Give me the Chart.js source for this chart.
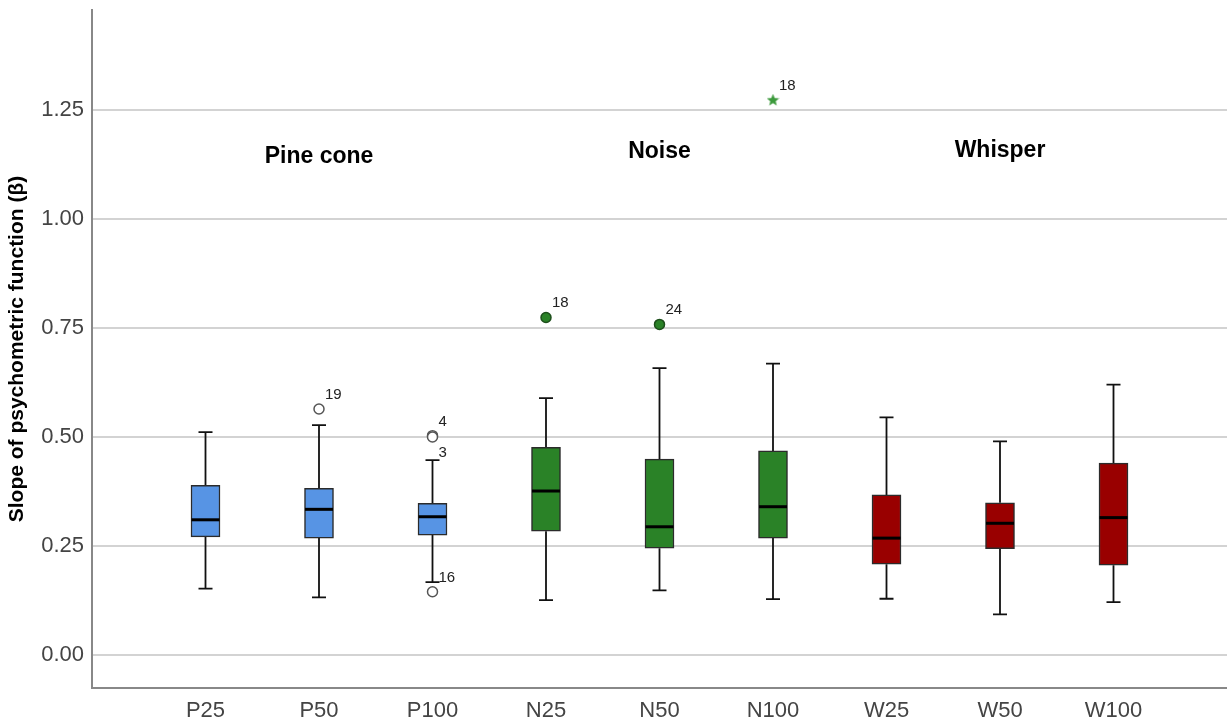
<!DOCTYPE html>
<html>
<head>
<meta charset="utf-8">
<script src="https://cdn.jsdelivr.net/npm/chart.js@4.4.1/dist/chart.umd.min.js"></script>
<style>
  html, body { margin: 0; padding: 0; background: #fff; }
</style>
</head>
<body>
<canvas id="boxChart" width="1227" height="725"></canvas>
<script>
const categories  = ['P25', 'P50', 'P100', 'N25', 'N50', 'N100', 'W25', 'W50', 'W100'];
const whiskerLow  = [0.152, 0.132, 0.167, 0.126, 0.148, 0.128, 0.129, 0.093, 0.121];
const quartile1   = [0.271, 0.268, 0.275, 0.284, 0.245, 0.268, 0.208, 0.244, 0.206];
const medians     = [0.310, 0.334, 0.317, 0.376, 0.294, 0.340, 0.268, 0.302, 0.315];
const quartile3   = [0.389, 0.382, 0.348, 0.476, 0.449, 0.468, 0.367, 0.349, 0.440];
const whiskerHigh = [0.511, 0.527, 0.447, 0.589, 0.658, 0.668, 0.545, 0.490, 0.620];

// outliers (circles): category index, value, case number
const outlierCat    = [1, 2, 2, 2, 3, 4];
const outlierValues = [0.564, 0.503, 0.500, 0.145, 0.774, 0.758];
const outlierIds    = ['19', '4', '3', '16', '18', '24'];

// extreme values (stars)
const extremeCat    = [5];
const extremeValues = [1.272];
const extremeIds    = ['18'];

const groupNames       = ['Pine cone', 'Noise', 'Whisper'];
const groupCenterCat   = [1, 4, 7];
const groupLabelValues = [1.142, 1.154, 1.156];

const yTicks = [0, 0.25, 0.5, 0.75, 1.0, 1.25];

const groupColors = ['#5794e4', '#2a8227', '#990000'];
const groupOf = i => Math.floor(i / 3);
const FONT = '"Liberation Sans", Arial, sans-serif';

function starImage(size, color) {
  const c = document.createElement('canvas');
  c.width = c.height = size;
  const g = c.getContext('2d');
  g.fillStyle = color;
  g.beginPath();
  for (let k = 0; k < 10; k++) {
    const r = k % 2 ? size * 0.22 : size * 0.5;
    const a = -Math.PI / 2 + k * Math.PI / 5;
    g.lineTo(size / 2 + r * Math.cos(a), size / 2 + r * Math.sin(a));
  }
  g.closePath();
  g.fill();
  return c;
}

const boxPlugin = {
  id: 'boxWhiskers',
  beforeDatasetsDraw(chart) {
    const { ctx, scales: { x, y } } = chart;
    ctx.save();
    ctx.strokeStyle = '#111';
    ctx.lineWidth = 1.8;
    categories.forEach((c, i) => {
      const px = x.getPixelForValue(i + 1);
      const lo = y.getPixelForValue(whiskerLow[i]);
      const hi = y.getPixelForValue(whiskerHigh[i]);
      ctx.beginPath();
      ctx.moveTo(px, lo); ctx.lineTo(px, y.getPixelForValue(quartile1[i]));
      ctx.moveTo(px, hi); ctx.lineTo(px, y.getPixelForValue(quartile3[i]));
      ctx.moveTo(px - 7, lo); ctx.lineTo(px + 7, lo);
      ctx.moveTo(px - 7, hi); ctx.lineTo(px + 7, hi);
      ctx.stroke();
    });
    // group headings
    ctx.fillStyle = '#000';
    ctx.font = 'bold 23px ' + FONT;
    ctx.textAlign = 'center';
    ctx.textBaseline = 'middle';
    groupNames.forEach((name, g) => {
      ctx.fillText(name, x.getPixelForValue(groupCenterCat[g] + 1), y.getPixelForValue(groupLabelValues[g]));
    });
    ctx.restore();
  },
  afterDatasetsDraw(chart) {
    const { ctx, scales: { x, y } } = chart;
    ctx.save();
    ctx.strokeStyle = '#000';
    ctx.lineWidth = 3;
    categories.forEach((c, i) => {
      const px = x.getPixelForValue(i + 1);
      const my = y.getPixelForValue(medians[i]);
      ctx.beginPath();
      ctx.moveTo(px - 14, my); ctx.lineTo(px + 14, my);
      ctx.stroke();
    });
    // case-number labels beside outliers
    ctx.font = '15px ' + FONT;
    ctx.fillStyle = '#222';
    ctx.textAlign = 'left';
    ctx.textBaseline = 'alphabetic';
    const placed = [];
    const label = (cat, val, id) => {
      const px = x.getPixelForValue(cat + 1) + 6;
      let by = y.getPixelForValue(val) - 10;
      const w = ctx.measureText(id).width;
      if (placed.some(r => px < r.x + r.w && r.x < px + w && by > r.y - 12 && by - 12 < r.y)) {
        by = y.getPixelForValue(val) + 20;
      }
      placed.push({ x: px, y: by, w });
      ctx.fillText(id, px, by);
    };
    outlierCat.forEach((c, i) => label(c, outlierValues[i], outlierIds[i]));
    extremeCat.forEach((c, i) => label(c, extremeValues[i], extremeIds[i]));
    ctx.restore();
  }
};

const ctx = document.getElementById('boxChart').getContext('2d');
new Chart(ctx, {
  type: 'bar',
  data: {
    datasets: [
      {
        type: 'bar',
        data: categories.map((c, i) => ({ x: i + 1, y: [quartile1[i], quartile3[i]] })),
        backgroundColor: categories.map((c, i) => groupColors[groupOf(i)]),
        borderColor: '#2b2b2b',
        borderWidth: 1.5,
        borderSkipped: false,
        barThickness: 29,
        order: 2
      },
      {
        type: 'scatter',
        data: outlierCat.map((c, i) => ({ x: c + 1, y: outlierValues[i] })),
        pointRadius: 5,
        pointBackgroundColor: outlierCat.map(c => groupOf(c) === 0 ? '#fff' : groupColors[groupOf(c)]),
        pointBorderColor: outlierCat.map(c => groupOf(c) === 0 ? '#555' : '#1d4f1b'),
        pointBorderWidth: 1.5,
        order: 1
      },
      {
        type: 'scatter',
        data: extremeCat.map((c, i) => ({ x: c + 1, y: extremeValues[i] })),
        pointStyle: starImage(13, '#3c9a3c'),
        order: 1
      }
    ]
  },
  options: {
    responsive: false,
    animation: false,
    layout: { autoPadding: false, padding: { top: 10, right: 0, left: 0, bottom: 0 } },
    plugins: { legend: { display: false }, tooltip: { enabled: false } },
    scales: {
      x: {
        type: 'linear',
        min: 0,
        max: 10,
        offset: false,
        afterBuildTicks: s => { s.ticks = categories.map((c, i) => ({ value: i + 1 })); },
        ticks: {
          callback: v => categories[v - 1] || '',
          font: { family: FONT, size: 22 },
          color: '#444',
          padding: 10,
          maxRotation: 0,
          autoSkip: false
        },
        grid: { display: false, drawTicks: false, offset: false },
        border: { color: '#888', width: 2 },
        afterFit: s => { s.height = 37; s.paddingLeft = 0; s.paddingRight = 0; }
      },
      y: {
        min: -0.0757,
        max: 1.479,
        afterBuildTicks: s => { s.ticks = yTicks.map(v => ({ value: v })); },
        ticks: {
          callback: v => v.toFixed(2),
          font: { family: FONT, size: 22 },
          color: '#444',
          padding: 8
        },
        grid: { color: '#d3d3d3', lineWidth: 2, drawTicks: false },
        border: { color: '#888', width: 2 },
        title: {
          display: true,
          text: 'Slope of psychometric function (β)',
          font: { family: FONT, size: 21, weight: 'bold' },
          color: '#000',
          padding: { top: 5, bottom: 0 }
        },
        afterFit: s => { s.width = 92; s.paddingTop = 0; s.paddingBottom = 0; }
      }
    }
  },
  plugins: [boxPlugin]
});
</script>
</body>
</html>
